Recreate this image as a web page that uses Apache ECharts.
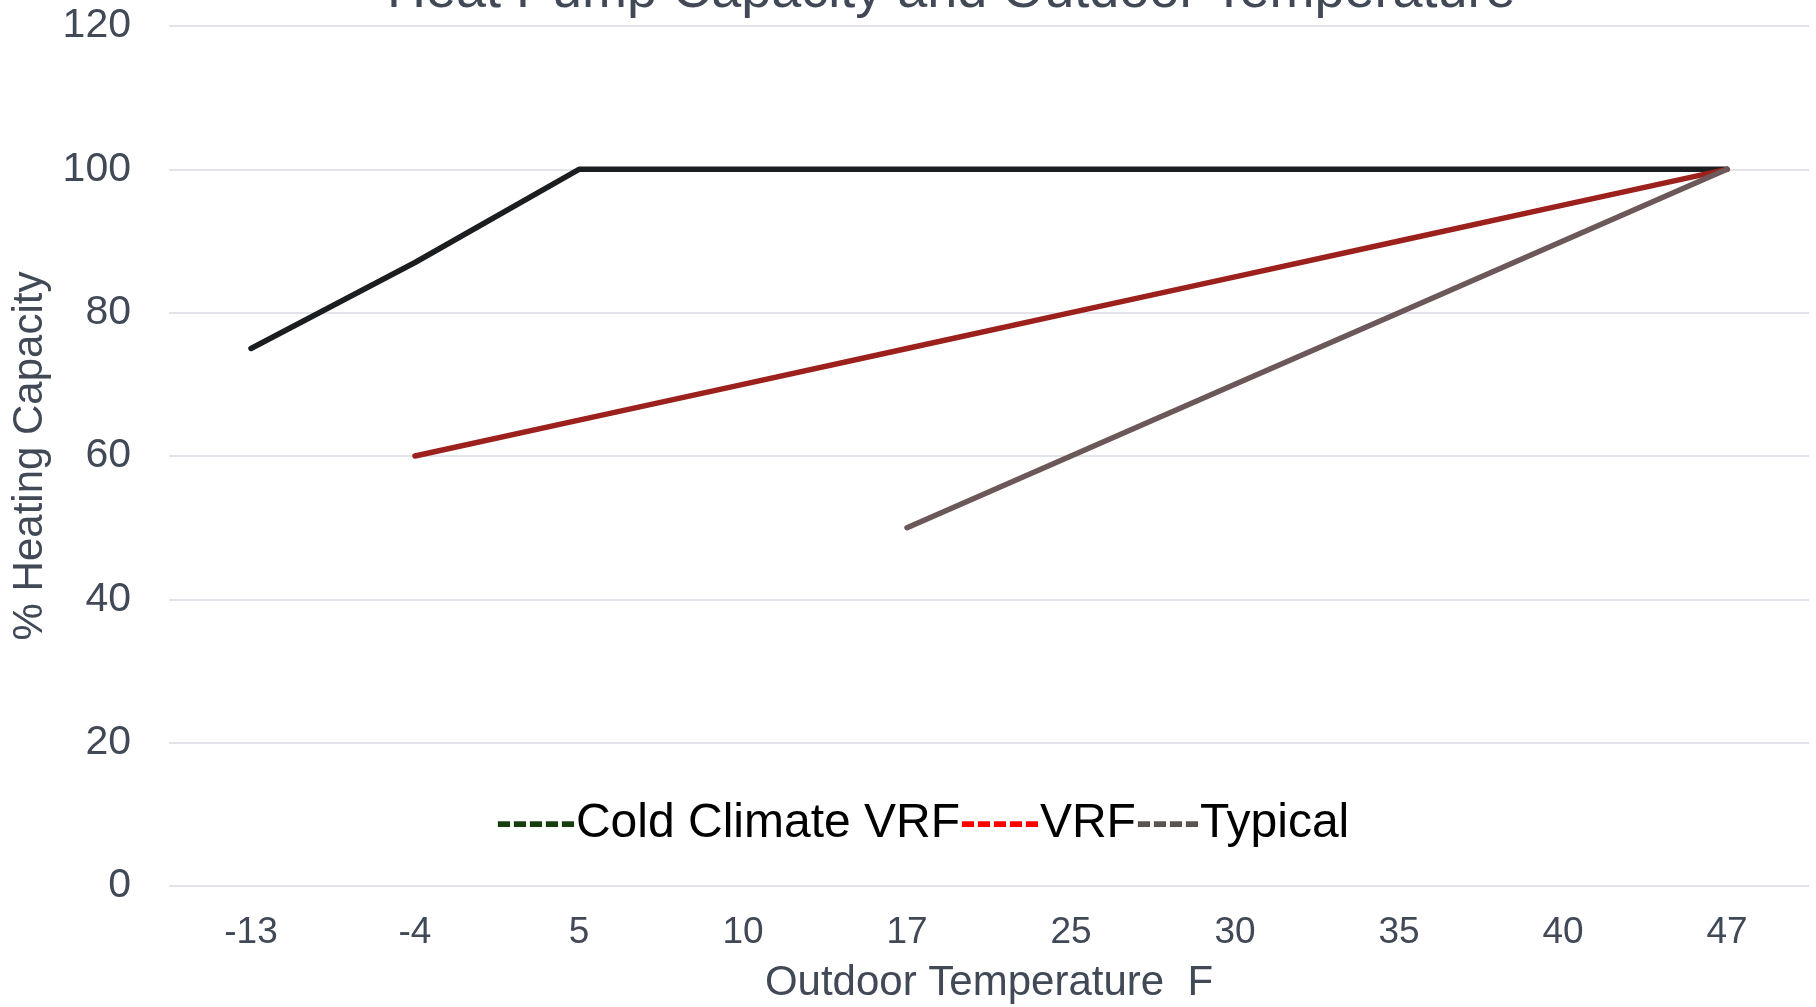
<!DOCTYPE html>
<html>
<head>
<meta charset="utf-8">
<title>Heat Pump Capacity and Outdoor Temperature</title>
<script src="https://cdn.jsdelivr.net/npm/echarts@6/dist/echarts.min.js"></script>
<style>
  html, body { margin: 0; padding: 0; background: #ffffff; }
  #chart { width: 1816px; height: 1007px; }
</style>
</head>
<body>
<div id="chart"></div>
<script>
// Outdoor temperature (°F) categories
const temperatures = ['-13', '-4', '5', '10', '17', '25', '30', '35', '40', '47'];

// % heating capacity per system type (null = not rated at that temperature)
const coldClimateVRF = [75, 87, 100, 100, 100, 100, 100, 100, 100, 100];
const standardVRF = [null, 60, 65, 70, 75, 80, 85, 90, 95, 100];
const typicalHP = [null, null, null, null, 50, 60, 70, 80, 90, 100];

const seriesNames = ['Cold Climate VRF', 'VRF', 'Typical'];
const legendDashes = ['-----', '-----', '----'];

// y-axis ticks
const yTicks = [0, 20, 40, 60, 80, 100, 120];

const lineColors = ['#1b1e21', '#9c201c', '#6c5859'];
const dashColors = ['#163f0e', '#ff0000', '#5b534e'];
const inkColor = '#414957';
const font = '"Liberation Sans", Arial, sans-serif';

const chart = echarts.init(document.getElementById('chart'), null, { renderer: 'canvas' });

const seriesData = [coldClimateVRF, standardVRF, typicalHP];

const richStyles = { t: { color: '#000000', fontSize: 48, fontFamily: font } };
dashColors.forEach((c, i) => {
  richStyles['d' + i] = { color: c, fontSize: 48, fontFamily: font, fontWeight: 'bold' };
});

chart.setOption({
  backgroundColor: '#ffffff',
  animation: false,
  title: {
    text: 'Heat Pump Capacity and Outdoor Temperature',
    left: 382,
    top: -40,
    textStyle: { color: inkColor, fontSize: 54, fontWeight: 'normal', fontFamily: font }
  },
  legend: {
    data: seriesNames.map(n => ({ name: n, icon: 'none' })),
    left: 486,
    top: 795,
    orient: 'horizontal',
    itemWidth: 0,
    itemHeight: 0,
    itemGap: -5,
    lineStyle: { opacity: 0 },
    itemStyle: { opacity: 0 },
    selectedMode: false,
    formatter: function (name) {
      const i = seriesNames.indexOf(name);
      return '{d' + i + '|' + legendDashes[i] + '}{t|' + name + '}';
    },
    textStyle: { fontSize: 48, fontFamily: font, color: '#000000', rich: richStyles }
  },
  grid: {
    left: 169, right: 7, top: 26, bottom: 121,
    containLabel: false,
    outerBoundsMode: 'none'
  },
  xAxis: {
    type: 'category',
    data: temperatures,
    boundaryGap: true,
    name: 'Outdoor Temperature  F',
    nameLocation: 'middle',
    nameGap: 76,
    nameTextStyle: { color: inkColor, fontSize: 42, fontFamily: font },
    axisLine: { show: false },
    axisTick: { show: false },
    axisLabel: { color: inkColor, fontSize: 37, fontFamily: font, margin: 28 },
    splitLine: { show: false }
  },
  yAxis: {
    type: 'value',
    min: yTicks[0],
    max: yTicks[yTicks.length - 1],
    interval: yTicks[1] - yTicks[0],
    name: '% Heating Capacity',
    nameLocation: 'middle',
    nameGap: 115,
    nameTextStyle: { color: inkColor, fontSize: 42, fontFamily: font },
    axisLine: { show: false },
    axisTick: { show: false },
    axisLabel: { color: inkColor, fontSize: 41, fontFamily: font, margin: 38 },
    splitLine: { show: true, lineStyle: { color: '#e3e3ea', width: 2 } }
  },
  series: seriesNames.map((name, i) => ({
    name: name,
    type: 'line',
    data: seriesData[i],
    showSymbol: false,
    symbol: 'none',
    connectNulls: false,
    lineStyle: { color: lineColors[i], width: 5.5, cap: 'round', join: 'round' },
    itemStyle: { color: lineColors[i] },
    emphasis: { disabled: true }
  }))
});
</script>
</body>
</html>
